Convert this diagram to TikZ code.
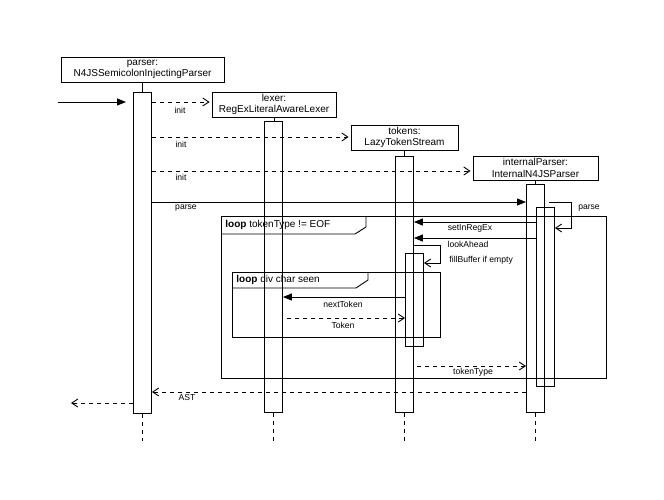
\documentclass[tikz,border=0pt]{standalone}
\usepackage{fontspec}
\setmainfont{Liberation Sans}
\usetikzlibrary{arrows.meta}
\begin{document}
\begin{tikzpicture}[x=1pt,y=-1pt,line width=0.9pt,
  head/.style={draw,inner sep=0pt,align=center,font=\fontsize{10}{11.5}\selectfont},
  act/.style={draw,inner sep=0pt,anchor=north west,minimum width=18pt},
  lbl/.style={font=\fontsize{8.6}{10}\selectfont,inner sep=0pt},
  looplbl/.style={font=\fontsize{10}{12}\selectfont,inner sep=0pt,anchor=west},
  lifeline/.style={dash pattern=on 4pt off 4pt},
  msg/.style={-{Triangle[length=9pt,width=7pt]}},
  ret/.style={dash pattern=on 4pt off 4pt,-{Straight Barb[length=6pt,width=8pt]}},
  selfcall/.style={-{Straight Barb[length=6pt,width=8pt]}},
  frame/.style={draw}
]
\useasboundingbox (0,0) rectangle (664,499);

% heads
\node[head,minimum width=163pt,minimum height=25pt] (ph) at (142.5,69.5) {parser:\\N4JSSemicolonInjectingParser};
\node[head,minimum width=124pt,minimum height=25pt] (lh) at (274,104.5) {lexer:\\RegExLiteralAwareLexer};
\node[head,minimum width=107pt,minimum height=25pt] (th) at (404.5,137.5) {tokens:\\LazyTokenStream};
\node[head,minimum width=125pt,minimum height=24pt] (ih) at (535.5,168) {internalParser:\\InternalN4JSParser};

% activations
\node[act,minimum height=321pt] (pa) at (133,92) {};
\node[act,minimum height=291pt] (la) at (264,121) {};
\node[act,minimum height=256pt] (ta) at (395,156) {};
\node[act,minimum height=228pt] (ia) at (526,184) {};
\node[act,minimum height=179pt] (ia2) at (536,207) {};
\node[act,minimum height=93pt] (ta2) at (405,253) {};

% lifelines
\draw (ph.south) -- (ph.south |- pa.north);
\draw (lh.south) -- (lh.south |- la.north);
\draw (th.south) -- (th.south |- ta.north);
\draw (ih.south) -- (ih.south |- ia.north);
\draw[lifeline] (pa.south) -- ++(0,27);
\draw[lifeline] (la.south) -- ++(0,28);
\draw[lifeline] (ta.south) -- ++(0,28);
\draw[lifeline] (ia.south) -- ++(0,29);

% loop frames
\draw[frame] (221,216) rectangle (606,378);
\draw (221,234) -- (355,234) -- (366,227) -- (366,216);
\node[looplbl] (l1) at (225,225) {\textbf{loop} tokenType != EOF};
\draw[frame] (232,272) rectangle (440,337);
\draw (232,288) -- (356,288) -- (368,280) -- (368,272);
\node[looplbl] (l2) at (236,280) {\textbf{loop} div char seen};

% messages
\coordinate (start) at (58,102);
\coordinate (finish) at (71,403);
\draw[msg] (start) -- (126,102);
\draw[ret,shorten >=2pt] (pa.east |- 0,102) -- (lh.west |- 0,102);
\node[lbl] (m1) at (180,110) {init};
\draw[ret,shorten >=2pt] (pa.east |- 0,137) -- (th.west |- 0,137);
\node[lbl] (m2) at (181,144) {init};
\draw[ret,shorten >=2pt] (pa.east |- 0,171) -- (ih.west |- 0,171);
\node[lbl] (m3) at (181,177) {init};
\draw[msg] (pa.east |- 0,202) -- (ia.west |- 0,202);
\node[lbl] (m4) at (186,208) {parse};
\draw[selfcall] (549,202) -- (571,202) -- (571,228) -- (ia2.east |- 0,228);
\node[lbl] (m5) at (589,208) {parse};
\draw[msg] (ia2.west |- 0,222) -- (ta.east |- 0,222);
\node[lbl] (m6) at (470,228) {setInRegEx};
\draw[msg] (ia2.west |- 0,238) -- (ta.east |- 0,238);
\node[lbl] (m7) at (468,244) {lookAhead};
\draw[selfcall] (ta.east |- 0,245) -- (440,245) -- (440,263) -- (ta2.east |- 0,263);
\node[lbl,anchor=west] (m8) at (449,260) {fillBuffer if empty};
\draw[msg] (ta2.west |- 0,297) -- (la.east |- 0,297);
\node[lbl] (m9) at (343,304) {nextToken};
\draw[ret] (287,318) -- (ta2.west |- 0,318);
\node[lbl] (m10) at (343,325) {Token};
\draw[ret] (417,366) -- (ia.west |- 0,366);
\node[lbl] (m11) at (473,372) {tokenType};
\draw[ret] (ia.west |- 0,392) -- (pa.east |- 0,392);
\node[lbl] (m12) at (187,398) {AST};
\draw[ret] (pa.west |- finish) -- (finish);
\end{tikzpicture}
\end{document}
